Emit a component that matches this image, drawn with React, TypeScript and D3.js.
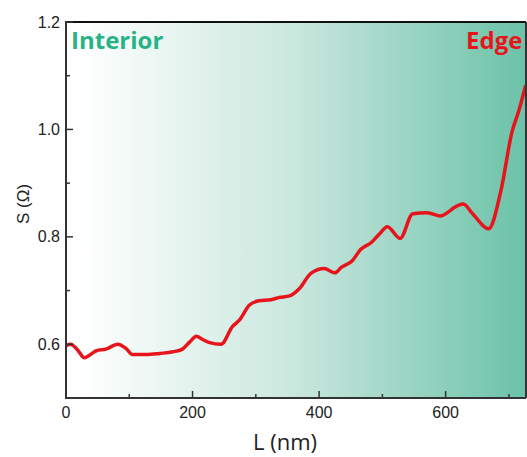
import React from 'react'
import * as d3 from 'd3'

// L (nm) positions along the scan and the measured S values
const lengths = [0, 7, 18, 29, 40, 48, 63, 82, 95, 105, 127, 148, 169, 184, 196, 206, 216, 227, 245, 263,
    274, 290, 305, 324, 337, 353, 369, 387, 408, 425, 435, 452, 466, 482, 495, 508, 528, 548, 571, 592,
    605, 613, 628, 642, 668, 687, 705, 716, 726]
const sValues = [0.597, 0.600, 0.590, 0.575, 0.582, 0.588, 0.591, 0.600, 0.592, 0.581, 0.581, 0.583, 0.586, 0.591, 0.605, 0.615, 0.609, 0.603, 0.600, 0.633,
    0.645, 0.673, 0.681, 0.683, 0.687, 0.690, 0.704, 0.732, 0.741, 0.733, 0.743, 0.755, 0.777, 0.789, 0.805, 0.819, 0.797, 0.843, 0.845, 0.839,
    0.847, 0.854, 0.861, 0.844, 0.815, 0.884, 0.996, 1.036, 1.080]

const xMajor = [0, 200, 400, 600]
const xMinor = [100, 300, 500, 700]
const yMajor = [0.6, 0.8, 1.0, 1.2]
const yMinor = [0.7, 0.9, 1.1]

const App = () => {
    const width = 527, height = 457
    const margin = { top: 22, right: 1, bottom: 59, left: 66 }

    const x = d3.scaleLinear().domain([0, 727]).range([margin.left, width - margin.right])
    const y = d3.scaleLinear().domain([0.5, 1.2]).range([height - margin.bottom, margin.top])

    const points: [number, number][] = lengths.map((l, i) => [l, sValues[i]])
    const line = d3.line<[number, number]>()
        .x(d => x(d[0]))
        .y(d => y(d[1]))
        .curve(d3.curveMonotoneX)

    const x0 = x.range()[0], x1 = x.range()[1]
    const y0 = y.range()[0], y1 = y.range()[1]
    const axisColor = '#333'
    const tickFont = '"Liberation Sans", Arial, sans-serif'

    return (
        <svg width={width} height={height} style={{ position: 'absolute', left: 0, top: 0 }}>
            <defs>
                <linearGradient id="bg" x1="0" x2="1" y1="0" y2="0">
                    <stop offset="0" stopColor="#ffffff" />
                    <stop offset="0.03" stopColor="#ffffff" />
                    <stop offset="0.5" stopColor="#c9e7de" />
                    <stop offset="1" stopColor="#6bc2a8" />
                </linearGradient>
                <clipPath id="plot">
                    <rect x={x0} y={y1} width={x1 - x0} height={y0 - y1} />
                </clipPath>
            </defs>
            <rect x={x0} y={y1} width={x1 - x0} height={y0 - y1} fill="url(#bg)" />

            <path d={line(points) || ''} fill="none" stroke="#e8141c" strokeWidth={3.5}
                strokeLinejoin="round" strokeLinecap="round" clipPath="url(#plot)" />

            {/* frame */}
            <line x1={x0} x2={x1} y1={y1} y2={y1} stroke="#111" strokeWidth={2} />
            <line x1={x1} x2={x1} y1={y1} y2={y0} stroke="#333" strokeWidth={2} />
            <line x1={x0} x2={x0} y1={y1 - 1} y2={y0 + 1} stroke={axisColor} strokeWidth={2} />
            <line x1={x0 - 1} x2={x1} y1={y0} y2={y0} stroke={axisColor} strokeWidth={2} />

            {xMajor.map(t => (
                <g key={'xM' + t}>
                    <line x1={x(t)} x2={x(t)} y1={y0} y2={y0 - 7} stroke={axisColor} strokeWidth={1.5} />
                    <text x={x(t)} y={y0 + 20} textAnchor="middle" fontSize={16} fontFamily={tickFont} fill="#222">{t}</text>
                </g>
            ))}
            {xMinor.map(t => (
                <line key={'xm' + t} x1={x(t)} x2={x(t)} y1={y0} y2={y0 - 4} stroke={axisColor} strokeWidth={1.5} />
            ))}
            {yMajor.map(t => (
                <g key={'yM' + t}>
                    <line x1={x0} x2={x0 + 7} y1={y(t)} y2={y(t)} stroke={axisColor} strokeWidth={1.5} />
                    <text x={x0 - 6} y={y(t) + 5.5} textAnchor="end" fontSize={16} fontFamily={tickFont} fill="#222">{t.toFixed(1)}</text>
                </g>
            ))}
            {yMinor.map(t => (
                <line key={'ym' + t} x1={x0} x2={x0 + 4} y1={y(t)} y2={y(t)} stroke={axisColor} strokeWidth={1.5} />
            ))}

            <text x={285} y={450} textAnchor="middle" fontSize={22} fontFamily='"Open Sans", sans-serif' fill="#222">L (nm)</text>
            <text transform="translate(29,204) rotate(-90)" textAnchor="middle" fontSize={17} fontFamily={tickFont} fill="#222">S (Ω)</text>

            <text x={71} y={49} fontSize={24} fontWeight="bold" fontFamily='"Open Sans", sans-serif' fill="#27b386">Interior</text>
            <text x={466} y={49} fontSize={24} fontWeight="bold" fontFamily='"Open Sans", sans-serif' fill="#e8141c">Edge</text>
        </svg>
    )
}

export default App
